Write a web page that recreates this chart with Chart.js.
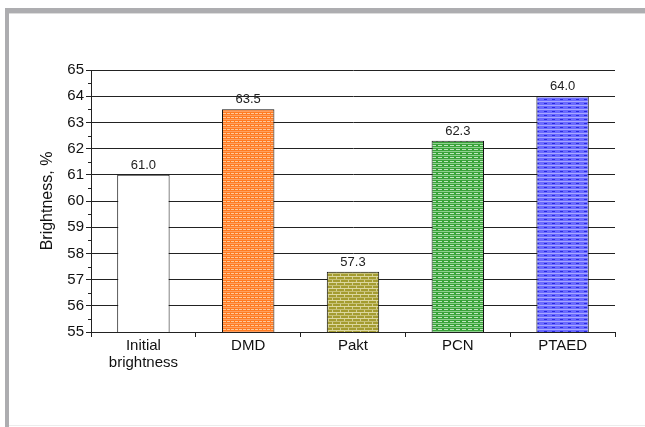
<!DOCTYPE html>
<html>
<head>
<meta charset="utf-8">
<script src="https://cdn.jsdelivr.net/npm/chart.js@4"></script>
<style>
  html, body { margin: 0; padding: 0; background: #fff; }
  #wrap { position: relative; width: 645px; height: 427px; overflow: hidden; }
  #frameTop { position: absolute; left: 5px; top: 8px; width: 640px; height: 5px; background: #adadb0; border-bottom: 1px solid #dcdcdc; }
  #frameLeft { position: absolute; left: 5px; top: 8px; width: 4px; height: 419px; background: #adadb0; }
  #frameBottom { position: absolute; left: 9px; top: 425px; width: 636px; height: 1px; background: #ececec; }
  canvas { position: absolute; left: 0; top: 0; }
</style>
</head>
<body>
<div id="wrap">
  <div id="frameTop"></div>
  <div id="frameLeft"></div>
  <div id="frameBottom"></div>
  <canvas id="chart" width="645" height="427"></canvas>
</div>
<script>
const categories = [["Initial", "brightness"], "DMD", "Pakt", "PCN", "PTAED"];
const brightness = [61.0, 63.5, 57.3, 62.3, 64.0];
const valueLabels = ["61.0", "63.5", "57.3", "62.3", "64.0"];
const yMin = 55, yMax = 65;

const ctx = document.getElementById("chart").getContext("2d");

// little fill patterns like the old office chart
function tile(w, h, draw) {
    const c = document.createElement("canvas");
    c.width = w; c.height = h;
    draw(c.getContext("2d"));
    return ctx.createPattern(c, "repeat");
}

const orange = tile(4, 4, g => {
    g.fillStyle = "#ff7b22"; g.fillRect(0, 0, 4, 4);
    g.fillStyle = "#ffc89a"; g.fillRect(0, 1, 2, 1); g.fillRect(3, 1, 1, 1);
    g.fillStyle = "#ffa060"; g.fillRect(0, 3, 4, 1);
});

const olive = tile(8, 6, g => {
    g.fillStyle = "#a49c30"; g.fillRect(0, 0, 8, 6);
    g.fillStyle = "#ddd8a0"; g.fillRect(0, 0, 8, 1);
    g.fillStyle = "#c8c278"; g.fillRect(0, 3, 8, 1);
    g.fillStyle = "#d4cf90"; g.fillRect(0, 1, 1, 2); g.fillRect(4, 4, 1, 2);
});

const green = tile(6, 4, g => {
    g.fillStyle = "#38a238"; g.fillRect(0, 0, 6, 4);
    g.fillStyle = "#bfe6bf"; g.fillRect(0, 1, 4, 1);
    g.fillStyle = "#8fd08f"; g.fillRect(0, 3, 6, 1);
});

const blue = tile(8, 4, g => {
    g.fillStyle = "#6a6aff"; g.fillRect(0, 0, 8, 4);
    g.fillStyle = "#a8a8ff"; g.fillRect(0, 1, 8, 1);
    g.fillStyle = "#2a2ae0"; g.fillRect(0, 3, 3, 1);
});

const barFills = ["#ffffff", orange, olive, green, blue];

// value labels over the bars + half-unit minor ticks on the y axis
const extras = {
    id: "extras",
    afterDatasetsDraw(chart) {
        const c = chart.ctx;
        const meta = chart.getDatasetMeta(0);
        c.save();
        c.font = "13px 'Liberation Sans', Arial, sans-serif";
        c.fillStyle = "#222";
        c.textAlign = "center";
        c.textBaseline = "bottom";
        meta.data.forEach((bar, i) => {
            c.fillText(valueLabels[i], bar.x, bar.y - 3);
        });
        const y = chart.scales.y;
        c.strokeStyle = "#222";
        c.lineWidth = 1;
        for (let v = yMin + 0.5; v < yMax; v += 1) {
            const py = Math.round(y.getPixelForValue(v)) + 0.5;
            c.beginPath();
            c.moveTo(y.right - 3, py);
            c.lineTo(y.right, py);
            c.stroke();
        }
        c.restore();
    }
};

new Chart(ctx, {
    type: "bar",
    data: {
        labels: categories,
        datasets: [{
            data: brightness,
            backgroundColor: barFills,
            borderColor: "#111",
            borderWidth: 1,
            borderSkipped: false,
            barPercentage: 1.0,
            categoryPercentage: 0.5
        }]
    },
    options: {
        responsive: false,
        animation: false,
        devicePixelRatio: 1,
        layout: { padding: { left: 38, right: 30, top: 70, bottom: 25 } },
        plugins: {
            legend: { display: false },
            tooltip: { enabled: false }
        },
        scales: {
            x: {
                grid: {
                    offset: true,
                    drawOnChartArea: false,
                    drawTicks: true,
                    tickLength: 5,
                    color: "#222"
                },
                border: { display: true, color: "#222", width: 1 },
                ticks: {
                    color: "#111",
                    padding: 0,
                    maxRotation: 0,
                    autoSkip: false,
                    font: { family: "'Liberation Sans', Arial, sans-serif", size: 15, lineHeight: 1.15 }
                },
                afterFit(scale) { scale.height = 70; }
            },
            y: {
                min: yMin,
                max: yMax,
                ticks: {
                    stepSize: 1,
                    color: "#111",
                    padding: 2,
                    font: { family: "'Liberation Sans', Arial, sans-serif", size: 15 }
                },
                grid: {
                    color: "#222",
                    lineWidth: 1,
                    tickLength: 5,
                    drawTicks: true
                },
                border: { display: true, color: "#222", width: 1 },
                title: {
                    display: true,
                    text: "Brightness, %",
                    color: "#111",
                    padding: { top: 0, bottom: 4 },
                    font: { family: "'Liberation Sans', Arial, sans-serif", size: 16 }
                },
                afterFit(scale) { scale.width = 53; }
            }
        }
    },
    plugins: [extras]
});
</script>
</body>
</html>
